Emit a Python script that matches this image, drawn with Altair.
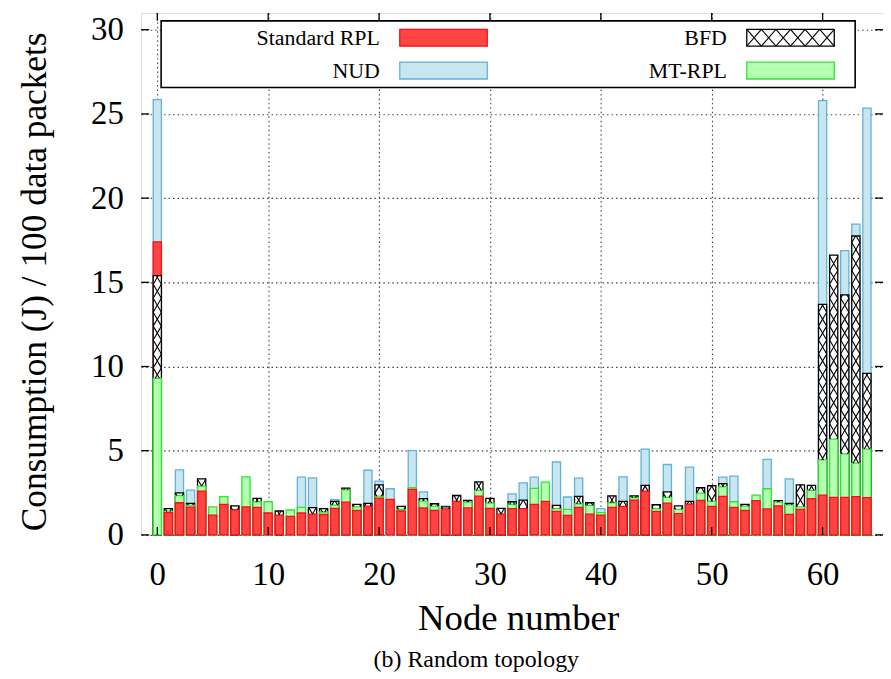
import altair as alt
import pandas as pd
import numpy as np

# ---------------- data ----------------
nodes = list(range(65))

standard_rpl = [17.4, 1.32, 1.91, 1.65, 2.60, 1.18, 1.81, 1.50, 1.67, 1.64,
                1.30, 1.18, 1.10, 1.30, 1.24, 1.22, 1.58, 1.95, 1.46, 1.71,
                2.19, 2.11, 1.42, 2.70, 1.60, 1.46, 1.54, 1.99, 1.60, 2.30,
                1.58, 1.24, 1.56, 1.56, 1.81, 1.99, 1.40, 1.16, 1.64, 1.24,
                1.18, 1.64, 1.69, 2.07, 2.60, 1.40, 1.89, 1.26, 1.83, 2.05,
                1.69, 2.29, 1.64, 1.46, 2.03, 1.54, 1.73, 1.22, 1.52, 2.15,
                2.36, 2.23, 2.23, 2.27, 2.21]

nud = [25.85, None, 3.86, 2.66, None, None, None, None, None, None,
       None, None, None, 3.43, 3.39, None, 2.09, None, None, 3.84,
       3.19, 2.74, None, 5.00, 2.56, None, 1.71, None, None, None,
       None, None, 2.44, 3.09, 3.43, None, 4.33, 2.25, 3.37, None,
       1.56, None, 3.45, None, 5.10, None, 4.18, None, 4.02, None,
       None, 3.43, 3.49, None, None, 4.49, None, 3.33, None, None,
       25.79, None, 16.88, 18.46, 25.35]

bfd = [15.4, 1.56, 2.50, 1.87, 3.33, None, None, 1.73, None, 2.17,
       None, 1.42, None, None, 1.62, 1.56, 1.99, 2.78, 1.81, 1.87,
       2.97, None, 1.69, None, 2.15, 1.85, 1.67, 2.34, 2.05, 3.15,
       2.17, 1.58, 1.97, 2.07, None, None, 1.75, None, 2.29, 1.91,
       None, 2.32, 1.99, 2.32, 2.94, 1.79, 2.56, 1.73, 1.99, 2.80,
       2.92, 3.05, None, 1.81, None, None, 2.03, 1.87, 2.97, 2.94,
       13.69, 16.61, 14.26, 17.75, 9.59]

mt_rpl = [9.3, 1.40, 2.34, 1.77, 2.90, 1.67, 2.27, None, 3.45, 1.97,
          1.97, None, 1.48, 1.64, None, 1.36, 1.77, 2.68, 1.67, None,
          2.30, None, 1.52, 2.80, 2.01, 1.71, None, None, 1.95, 2.64,
          1.89, None, 1.81, None, 2.76, 3.13, 1.56, 1.52, 1.85, 1.75,
          1.32, 1.91, None, 2.21, None, 1.56, 2.23, 1.52, None, 2.48,
          1.99, 2.86, 1.97, 1.71, 2.36, 2.74, 1.95, 1.79, 1.67, 2.64,
          4.45, 5.69, 4.81, 4.26, 5.10]

series_names = ["Standard RPL", "NUD", "BFD", "MT-RPL"]
x_ticks = [0, 10, 20, 30, 40, 50, 60]
y_ticks = [0, 5, 10, 15, 20, 25, 30]
x_title = "Node number"
y_title = "Consumption (J) / 100 data packets"
caption = "(b) Random topology"

# ---------------- styles / layout ----------------
FILLS = ["#ff4444", "#c8e6f0", "#ffffff", "#b4ffb0"]
STROKES = ["#ff0d0d", "#62b2da", "#000000", "#2fe52f"]
FONT = "Liberation Serif"
W, H = 746, 525
X_DOM = [-1, 65]
Y_DOM = [0, 31]
HALF = 0.37
PX_X = W / (X_DOM[1] - X_DOM[0])
PX_Y = H / (Y_DOM[1] - Y_DOM[0])
TICK = 8

xscale = alt.Scale(domain=X_DOM, nice=False, zero=False)
yscale = alt.Scale(domain=Y_DOM, nice=False, zero=False)
fill_scale = alt.Scale(domain=series_names, range=FILLS)
stroke_scale = alt.Scale(domain=series_names, range=STROKES)

# ---------------- long table ----------------
rows = []
for s, vals in zip(series_names, [standard_rpl, nud, bfd, mt_rpl]):
    for n, v in zip(nodes, vals):
        if v is not None:
            rows.append({"node": n, "series": s, "value": v})
df = pd.DataFrame(rows)
df["z"] = df.groupby("node")["value"].rank(method="first", ascending=False)
df["x1"] = df["node"] - HALF
df["x2"] = df["node"] + HALF
df["base"] = 0.0
df = df.sort_values(["node", "z"]).reset_index(drop=True)

# cross-hatch segments for the visible part of each BFD bar
band = 14.0 / PX_Y
hatch = []
for _, r in df[df.series == "BFD"].iterrows():
    n, v = r["node"], r["value"]
    lower = df[(df.node == n) & (df.value < v)]["value"]
    lo = float(lower.max()) if len(lower) else 0.0
    xl, w = n - HALF, 2 * HALF
    for k in range(int(np.floor(lo / band)), int(np.ceil(v / band))):
        b = k * band
        t0, t1 = max(0.0, (lo - b) / band), min(1.0, (v - b) / band)
        if t1 > t0:
            hatch.append({"x1": xl + t0 * w, "x2": xl + t1 * w,
                          "value": b + t0 * band, "base": b + t1 * band})
        t0, t1 = max(0.0, (b + band - v) / band), min(1.0, (b + band - lo) / band)
        if t1 > t0:
            hatch.append({"x1": xl + t0 * w, "x2": xl + t1 * w,
                          "value": b + band - t0 * band, "base": b + band - t1 * band})
hatch_df = pd.DataFrame(hatch)

# ---------------- layers ----------------
xaxis = alt.Axis(values=x_ticks, grid=True, gridDash=[1.5, 3], gridColor="#444444",
                 gridWidth=1.1, ticks=False, tickSize=0, domain=False,
                 labelFont=FONT, labelFontSize=33, labelColor="black",
                 labelPadding=24, labelFlush=False,
                 titleFont=FONT, titleFontSize=37, titleFontWeight="normal",
                 titleColor="black", titleX=379, titleY=84, titleBaseline="middle")
yaxis = alt.Axis(values=y_ticks, grid=True, gridDash=[1.5, 3], gridColor="#444444",
                 gridWidth=1.1, ticks=False, tickSize=0, domain=False,
                 labelFont=FONT, labelFontSize=33, labelColor="black",
                 labelPadding=18, labelFlush=False,
                 titleFont=FONT, titleFontSize=35.5, titleFontWeight="normal",
                 titleColor="black", titleX=-107, titleY=270, titleAngle=-90,
                 titleBaseline="middle", titleAlign="center")

bars = alt.Chart(df).mark_bar(strokeWidth=1.3, opacity=1, orient="vertical").encode(
    x=alt.X("x1:Q", scale=xscale, axis=xaxis, title=x_title),
    x2="x2:Q",
    y=alt.Y("value:Q", scale=yscale, axis=yaxis, title=y_title, stack=None),
    y2="base:Q",
    fill=alt.Fill("series:N", scale=fill_scale, legend=None),
    stroke=alt.Stroke("series:N", scale=stroke_scale, legend=None),
    order=alt.Order("z:Q", sort="ascending"),
)

ytick_df = pd.DataFrame({"value": y_ticks})
xtick_df = pd.DataFrame({"x1": x_ticks})

tick_layers = [
    alt.Chart(ytick_df).mark_rule(color="black", strokeWidth=1.3).encode(
        y=alt.Y("value:Q", scale=yscale), x=alt.value(0), x2=alt.value(TICK)),
    alt.Chart(ytick_df).mark_rule(color="black", strokeWidth=1.3).encode(
        y=alt.Y("value:Q", scale=yscale), x=alt.value(W - TICK), x2=alt.value(W)),
    alt.Chart(xtick_df).mark_rule(color="black", strokeWidth=1.3).encode(
        x=alt.X("x1:Q", scale=xscale), y=alt.value(0), y2=alt.value(TICK)),
    alt.Chart(xtick_df).mark_rule(color="black", strokeWidth=1.3).encode(
        x=alt.X("x1:Q", scale=xscale), y=alt.value(H - TICK), y2=alt.value(H)),
]

hatch_layer = alt.Chart(hatch_df).mark_rule(color="black", strokeWidth=1.1).encode(
    x=alt.X("x1:Q", scale=xscale), x2="x2:Q",
    y=alt.Y("value:Q", scale=yscale), y2="base:Q")

# ---------------- legend (gnuplot style: label left of key) ----------------
LEG_BOX = (20, 718, 8, 75)
KEY_X = [260, 609]
KEY_W = 88
ROW_Y = [25, 58]
KEY_H = 17
GAP = 20
one = pd.DataFrame({"k": [0]})

legend_layers = [
    alt.Chart(one).mark_rect(fill="white", stroke="black", strokeWidth=1.6).encode(
        x=alt.value(LEG_BOX[0]), x2=alt.value(LEG_BOX[1]),
        y=alt.value(LEG_BOX[2]), y2=alt.value(LEG_BOX[3]))
]
legend_order = ["Standard RPL", "BFD", "NUD", "MT-RPL"]
for i, s in enumerate(legend_order):
    col, row = i % 2, i // 2
    j = series_names.index(s)
    kx, ky = KEY_X[col], ROW_Y[row]
    legend_layers.append(
        alt.Chart(one).mark_rect(fill=FILLS[j], stroke=STROKES[j], strokeWidth=1.3).encode(
            x=alt.value(kx), x2=alt.value(kx + KEY_W),
            y=alt.value(ky - KEY_H / 2), y2=alt.value(ky + KEY_H / 2)))
    legend_layers.append(
        alt.Chart(one).mark_text(text=s, align="right", baseline="middle", font=FONT,
                                 fontSize=22, color="black").encode(
            x=alt.value(kx - GAP), y=alt.value(ky)))
    if s == "BFD":
        nx = 6
        cw = KEY_W / nx
        for q in range(nx):
            x0 = kx + q * cw
            for ya, yb in [(ky - KEY_H / 2, ky + KEY_H / 2), (ky + KEY_H / 2, ky - KEY_H / 2)]:
                legend_layers.append(
                    alt.Chart(one).mark_rule(color="black", strokeWidth=1.1).encode(
                        x=alt.value(x0), x2=alt.value(x0 + cw),
                        y=alt.value(ya), y2=alt.value(yb)))

chart = alt.layer(
    bars, *tick_layers, hatch_layer, *legend_layers,
).properties(
    width=W, height=H,
    autosize=alt.AutoSizeParams(type="none"),
    padding={"left": 134, "top": 3, "right": 0, "bottom": 143},
    title=alt.TitleParams(caption, orient="bottom", anchor="middle", font=FONT,
                          fontSize=24, fontWeight="normal", color="black",
                          offset=12, dx=-36),
).configure_view(stroke="black", strokeWidth=1.6).configure(background="white")

chart.save("out.html", embed_options={"renderer": "svg", "actions": False})
